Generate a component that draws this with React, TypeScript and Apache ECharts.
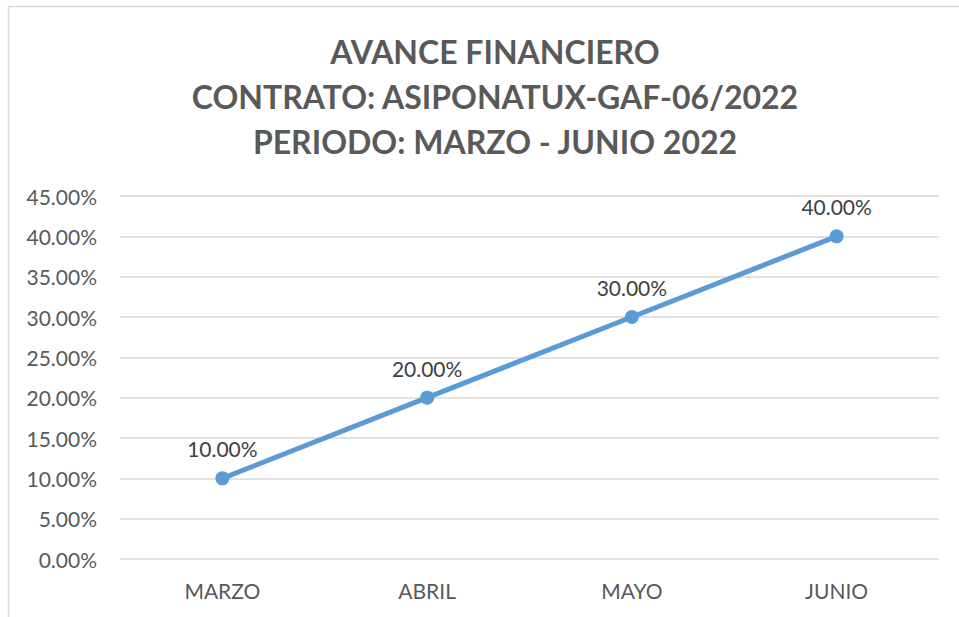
import React, { useEffect, useRef } from "react";
import * as echarts from "echarts";

const categories = ["MARZO", "ABRIL", "MAYO", "JUNIO"];
const avance = [0.1, 0.2, 0.3, 0.4];
const titleLines = [
  "AVANCE FINANCIERO",
  "CONTRATO: ASIPONATUX-GAF-06/2022",
  "PERIODO: MARZO - JUNIO 2022",
];

const FONT = "Lato, sans-serif";

export default function App() {
  const ref = useRef<HTMLDivElement>(null);
  useEffect(() => {
    const chart = echarts.init(ref.current!, null, { renderer: "svg" });
    chart.setOption({
      animation: false,
      backgroundColor: "#ffffff",
      textStyle: { fontFamily: FONT },
      graphic: [
        {
          type: "rect",
          shape: { x: 8.5, y: 6.5, width: 980, height: 640 },
          style: { fill: "none", stroke: "#d9d9d9", lineWidth: 1.5 },
        },
      ],
      title: {
        text: titleLines.join("\n"),
        left: 490,
        top: 24,
        textAlign: "center",
        textStyle: {
          fontSize: 32,
          fontWeight: "bold",
          color: "#595959",
          lineHeight: 45,
          fontFamily: FONT,
        },
      },
      grid: { left: 120, right: 20, top: 196, bottom: 58, containLabel: false },
      xAxis: {
        type: "category",
        data: categories,
        boundaryGap: true,
        axisLine: { show: false },
        axisTick: { show: false },
        axisLabel: { color: "#595959", fontSize: 21, margin: 21, fontFamily: FONT },
      },
      yAxis: {
        type: "value",
        min: 0,
        max: 0.45,
        interval: 0.05,
        axisLine: { show: false },
        axisTick: { show: false },
        splitLine: { lineStyle: { color: "#d9d9d9", width: 1.5 } },
        axisLabel: {
          color: "#595959",
          fontSize: 21,
          margin: 23,
          fontFamily: FONT,
          formatter: (v: number) => (v * 100).toFixed(2) + "%",
        },
      },
      series: [
        {
          type: "line",
          data: avance,
          color: "#5B9BD5",
          lineStyle: { width: 5, color: "#5B9BD5" },
          symbol: "circle",
          symbolSize: 14,
          itemStyle: { color: "#5B9BD5" },
          label: {
            show: true,
            position: "top",
            distance: 12,
            color: "#404040",
            fontSize: 21,
            fontFamily: FONT,
            formatter: (p: any) => (p.value * 100).toFixed(2) + "%",
          },
        },
      ],
    });
    return () => chart.dispose();
  }, []);
  return (
    <div
      ref={ref}
      style={{ position: "absolute", left: 0, top: 0, width: 959, height: 617 }}
    />
  );
}
